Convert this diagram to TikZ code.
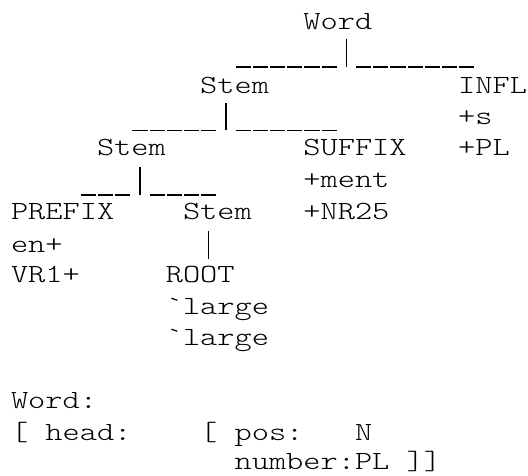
\documentclass[tikz,border=0pt]{standalone}
\usepackage{graphicx}
\newcommand{\monofont}{\fontsize{26.2}{30}\fontseries{l}\ttfamily\selectfont}
\newcommand{\mono}[1]{\scalebox{1.2505}[1]{\monofont #1}}
\begin{document}
\begin{tikzpicture}[x=1pt,y=-1pt,
  txt/.style={anchor=base west,inner sep=0pt,outer sep=0pt},
  bar/.style={line width=1.2pt,black},
  ul/.style={line width=1.2pt,black,dash pattern=on 15.2pt off 2pt,dash phase=-1pt}]
\useasboundingbox (0,0) rectangle (528,476);
% tree labels (column c -> x = 11 + 17.2 c)
\node[txt] (word)   at ({11+17.2*17},30)  {\mono{Word}};
\node[txt] (stemA)  at ({11+17.2*11},94)  {\mono{Stem}};
\node[txt] (infl)   at ({11+17.2*26},94)  {\mono{INFL}};
\node[txt] (plusS)  at ({11+17.2*26},125) {\mono{+s}};
\node[txt] (stemB)  at ({11+17.2*5},156)  {\mono{Stem}};
\node[txt] (suffix) at ({11+17.2*17},156) {\mono{SUFFIX}};
\node[txt] (plusPL) at ({11+17.2*26},156) {\mono{+PL}};
\node[txt] (ment)   at ({11+17.2*17},188) {\mono{+ment}};
\node[txt] (prefix) at ({11+17.2*0},220)  {\mono{PREFIX}};
\node[txt] (stemC)  at ({11+17.2*10},220) {\mono{Stem}};
\node[txt] (nr)     at ({11+17.2*17},220) {\mono{+NR25}};
\node[txt] (en)     at ({11+17.2*0},252)  {\mono{en+}};
\node[txt] (vr)     at ({11+17.2*0},283)  {\mono{VR1+}};
\node[txt] (root)   at ({11+17.2*9},283)  {\mono{ROOT}};
\node[txt] (largeA) at ({11+17.2*9},314)  {\mono{`large}};
\node[txt] (largeB) at ({11+17.2*9},345)  {\mono{`large}};
% feature structure
\node[txt] (fs)     at ({11+17.2*0},408)  {\mono{Word:}};
\node[txt] (brA)    at ({11+17.2*0},440)  {\mono{[}};
\node[txt] (head)   at ({11+17.2*2},440)  {\mono{head:}};
\node[txt] (brB)    at ({11+17.2*11},440) {\mono{[}};
\node[txt] (pos)    at ({11+17.2*13},440) {\mono{pos:}};
\node[txt] (nval)   at ({11+17.2*20},440) {\mono{N}};
\node[txt] (number) at ({11+17.2*13},469) {\mono{number:PL ]]}};
% connector points
\coordinate (j1t) at ({11+17.2*19.5},39.5);
\coordinate (j1)  at ({11+17.2*19.5},67);
\coordinate (u1a) at ({11+17.2*13},67);
\coordinate (u1b) at ({11+17.2*19},67);
\coordinate (u1c) at ({11+17.2*20},67);
\coordinate (u1d) at ({11+17.2*27},67);
\coordinate (j2t) at ({11+17.2*12.5},103);
\coordinate (j2)  at ({11+17.2*12.5},130.5);
\coordinate (u2a) at ({11+17.2*7},130.5);
\coordinate (u2b) at ({11+17.2*12},130.5);
\coordinate (u2c) at ({11+17.2*13},130.5);
\coordinate (u2d) at ({11+17.2*19},130.5);
\coordinate (j3t) at ({11+17.2*7.5},167.5);
\coordinate (j3)  at ({11+17.2*7.5},195);
\coordinate (u3a) at ({11+17.2*4},195);
\coordinate (u3b) at ({11+17.2*7},195);
\coordinate (u3c) at ({11+17.2*8},195);
\coordinate (u3d) at ({11+17.2*12},195);
\coordinate (j4t) at ({11+17.2*11.5},231);
\coordinate (j4)  at ({11+17.2*11.5},258.5);
% connectors
\draw[bar] (j1t) -- (j1);
\draw[ul] (u1a) -- (u1b);
\draw[ul] (u1c) -- (u1d);
\draw[bar] (j2t) -- (j2);
\draw[ul] (u2a) -- (u2b);
\draw[ul] (u2c) -- (u2d);
\draw[bar] (j3t) -- (j3);
\draw[ul] (u3a) -- (u3b);
\draw[ul] (u3c) -- (u3d);
\draw[bar] (j4t) -- (j4);
\end{tikzpicture}
\end{document}
